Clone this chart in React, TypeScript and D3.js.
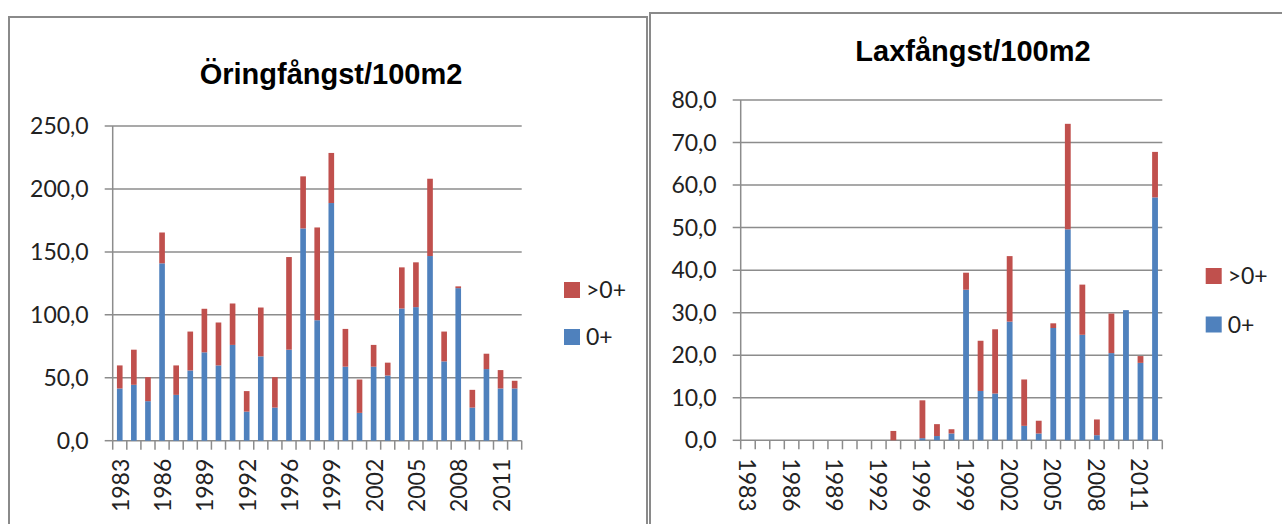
import React from "react";
import * as d3 from "d3";

const years = ["1983","1984","1985","1986","1987","1988","1989","1990","1991","1992","1993","1995","1996","1997","1998","1999","2000","2001","2002","2003","2004","2005","2006","2007","2008","2009","2010","2011","2012"];
const tickYears = ["1983","1986","1989","1992","1996","1999","2002","2005","2008","2011"];

// Öring (trout)
const troutYoung = [41.5,44.4,31.4,140.9,36.4,55.8,70.2,59.8,76.1,23.1,67.0,26.3,72.3,168.6,95.7,188.8,58.8,22.1,58.8,51.8,105.0,106.1,146.7,63.0,121.2,26.3,56.9,41.5,41.5];
const troutOlder = [18.3,27.9,19.1,24.5,23.4,30.9,34.6,34.1,32.9,16.3,38.8,24.2,73.6,41.4,73.7,39.8,30.0,26.5,17.3,10.2,32.7,35.6,61.4,23.7,1.4,14.1,12.2,14.6,6.1];

// Lax (salmon)
const salmonYoung = [0,0,0,0,0,0,0,0,0,0,0,0,0.5,1.0,1.6,35.4,11.6,11.0,27.9,3.4,1.6,26.4,49.6,24.8,1.2,20.5,30.6,18.2,57.1];
const salmonOlder = [0,0,0,0,0,0,0,0,0,0,2.2,0,8.9,2.8,1.0,4.0,11.8,15.1,15.4,10.9,3.0,1.1,24.8,11.8,3.7,9.3,0,1.6,10.7];

const troutTicks = [0,50,100,150,200,250];
const salmonTicks = [0,10,20,30,40,50,60,70,80];

const seriesNames = [">0+", "0+"];
const BLUE = "#4F81BD";
const RED = "#C0504D";
const GRID = "#8c8c8c";
const AXFONT = "Lato, 'Open Sans', sans-serif";

type ChartProps = {
  title: string;
  titleX: number;
  titleY: number;
  young: number[];
  older: number[];
  ticks: number[];
  x0: number; x1: number; yTop: number; yBase: number;
  labelRotate: number;
  legendX: number; legendY1: number; legendY2: number;
};

function Chart(p: ChartProps) {
  const x = d3.scaleBand<string>().domain(years).range([p.x0, p.x1]).paddingInner(0.6).paddingOuter(0.3);
  const y = d3.scaleLinear().domain([0, p.ticks[p.ticks.length - 1]]).range([p.yBase, p.yTop]);
  const step = x.step();
  const fmt = (v: number) => d3.format(".1f")(v).replace(".", ",");
  const bounds = d3.range(years.length + 1).map(i => p.x0 + i * step);
  return (
    <g>
      <text x={p.titleX} y={p.titleY} textAnchor="middle" fontFamily="'Liberation Sans', Arial, sans-serif" fontWeight="bold" fontSize={29} fill="#000">{p.title}</text>
      {p.ticks.map(t => (
        <g key={t}>
          <line x1={p.x0 - 8} x2={t === 0 ? p.x0 : p.x1} y1={y(t)} y2={y(t)} stroke={GRID} strokeWidth={1.5} />
          <text x={p.x0 - 24} y={y(t)} dy="0.35em" textAnchor="end" fontFamily={AXFONT} fontSize={23} fill="#222">{fmt(t)}</text>
        </g>
      ))}
      <line x1={p.x0} x2={p.x0} y1={p.yTop} y2={p.yBase} stroke={GRID} strokeWidth={1.5} />
      <line x1={p.x0} x2={p.x1} y1={p.yBase} y2={p.yBase} stroke={GRID} strokeWidth={1.5} />
      {bounds.map((bx, i) => (
        <line key={i} x1={bx} x2={bx} y1={p.yBase} y2={p.yBase + 9} stroke={GRID} strokeWidth={1.5} />
      ))}
      {years.map((yr, i) => (
        <g key={yr}>
          {p.young[i] > 0 && <rect x={x(yr)} width={x.bandwidth()} y={y(p.young[i])} height={y(0) - y(p.young[i])} fill={BLUE} />}
          {p.older[i] > 0 && <rect x={x(yr)} width={x.bandwidth()} y={y(p.young[i] + p.older[i])} height={y(p.young[i]) - y(p.young[i] + p.older[i])} fill={RED} />}
        </g>
      ))}
      {years.filter(yr => tickYears.includes(yr)).map(yr => {
        const cx = (x(yr) as number) + x.bandwidth() / 2;
        const ty = p.yBase + 18;
        return p.labelRotate < 0 ? (
          <text key={yr} transform={`translate(${cx + 1},${ty}) rotate(-90)`} textAnchor="end" dy="0.35em" fontFamily={AXFONT} fontSize={23} fill="#222">{yr}</text>
        ) : (
          <text key={yr} transform={`translate(${cx - 1},${ty}) rotate(90)`} textAnchor="start" dy="0.35em" fontFamily={AXFONT} fontSize={23} fill="#222">{yr}</text>
        );
      })}
      {[RED, BLUE].map((c, i) => {
        const ly = i === 0 ? p.legendY1 : p.legendY2;
        return (
          <g key={c}>
            <rect x={p.legendX} y={ly - 8} width={16} height={16} fill={c} />
            <text x={p.legendX + 22} y={ly} dy="0.35em" fontFamily={AXFONT} fontSize={23} fill="#222">{seriesNames[i]}</text>
          </g>
        );
      })}
    </g>
  );
}

export default function App() {
  return (
    <svg width={1282} height={524} style={{ position: "absolute", left: 0, top: 0, background: "#fff" }}>
      <rect x={0} y={0} width={1282} height={524} fill="#fff" />
      <path d="M9,530 V17 H647 V530" fill="none" stroke="#8a8a8a" strokeWidth={2} />
      <path d="M650,530 V13 H1290" fill="none" stroke="#8a8a8a" strokeWidth={2} />
      <Chart title="Öringfångst/100m2" titleX={331} titleY={84} young={troutYoung} older={troutOlder} ticks={troutTicks}
        x0={112.7} x1={521.7} yTop={126} yBase={440.7} labelRotate={-90} legendX={564} legendY1={290} legendY2={337} />
      <Chart title="Laxfångst/100m2" titleX={973} titleY={61} young={salmonYoung} older={salmonOlder} ticks={salmonTicks}
        x0={740.7} x1={1162.3} yTop={100} yBase={440.3} labelRotate={90} legendX={1205.7} legendY1={276} legendY2={324.5} />
    </svg>
  );
}
